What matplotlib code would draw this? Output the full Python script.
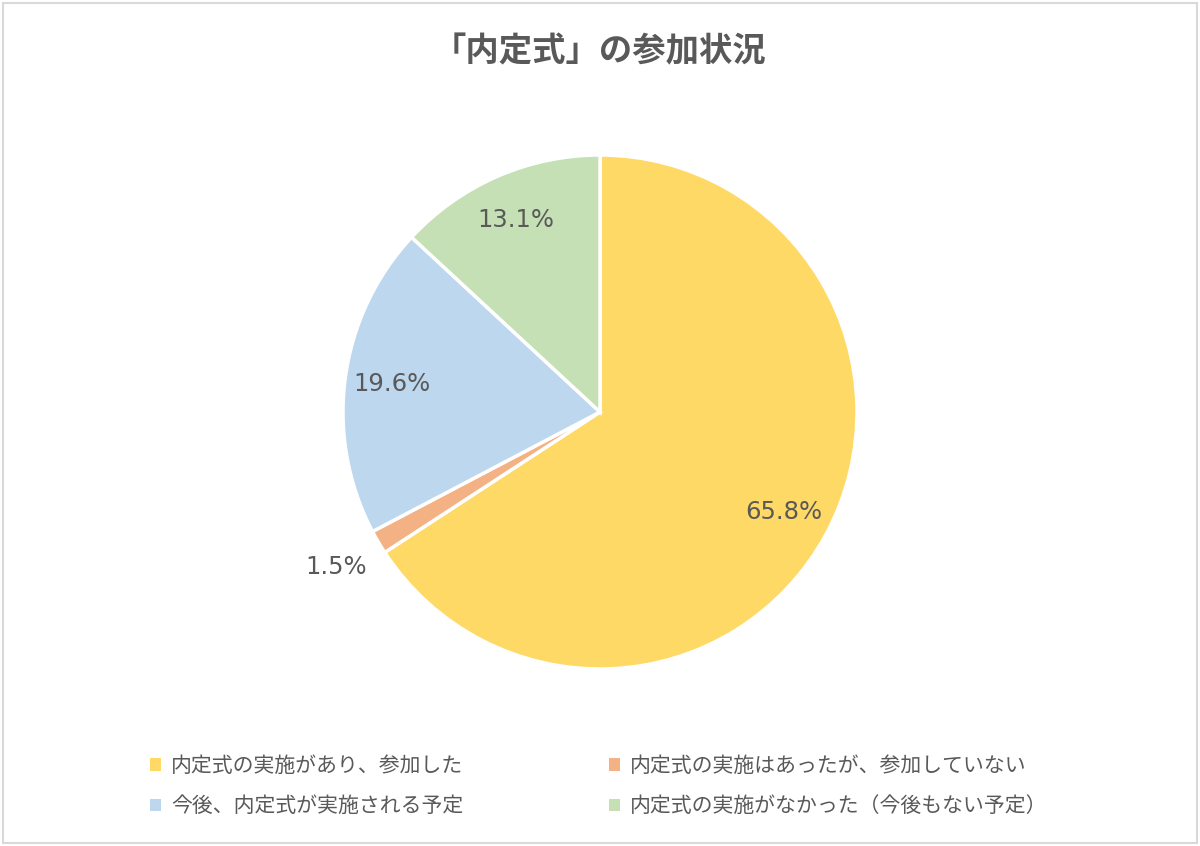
import matplotlib
matplotlib.use("Agg")
import matplotlib.pyplot as plt
from matplotlib.patches import Rectangle, Patch
import numpy as np

plt.rcParams['font.family'] = ['Noto Sans CJK JP', 'DejaVu Sans']

title = "「内定式」の参加状況"
categories = ["内定式の実施があり、参加した",
              "内定式の実施はあったが、参加していない",
              "今後、内定式が実施される予定",
              "内定式の実施がなかった（今後もない予定）"]
values = [65.8, 1.5, 19.6, 13.1]
labels = ["65.8%", "1.5%", "19.6%", "13.1%"]
colors = ["#FFD966", "#F4B183", "#BDD7EE", "#C5E0B4"]

W, H = 1200, 846
fig = plt.figure(figsize=(W/100, H/100), dpi=100)
fig.patch.set_facecolor("white")

cx, cy, r = 600, 412, 257
ax = fig.add_axes([(cx - r)/W, (H - cy - r)/H, 2*r/W, 2*r/H])
wedges, _ = ax.pie(values, colors=colors, startangle=90, counterclock=False,
                   radius=1, wedgeprops=dict(edgecolor="white", linewidth=2.5))
ax.set_xlim(-1, 1)
ax.set_ylim(-1, 1)
ax.axis("off")

for w, lab, v in zip(wedges, labels, values):
    mid = np.deg2rad((w.theta1 + w.theta2) / 2)
    d = 0.815 if v > 5 else 1.19
    ax.text(d*np.cos(mid), d*np.sin(mid), lab, ha="center", va="center",
            fontsize=17.5, color="#595959", family="DejaVu Sans")

fig.text(0.5, (H - 52)/H, title, ha="center", va="center", fontsize=24,
         fontweight="bold", color="#595959")

# legend (column-major order)
order = [0, 2, 1, 3]
handles = [Patch(facecolor=colors[i], edgecolor="none") for i in order]
names = [categories[i] for i in order]
leg = fig.legend(handles, names, ncol=2, loc="center left",
                 bbox_to_anchor=(150/W, 1 - 786/H), frameon=False,
                 fontsize=15, handlelength=0.55, handleheight=0.55,
                 handletextpad=0.45, columnspacing=7.0, labelspacing=0.9,
                 borderpad=0, borderaxespad=0)
for t in leg.get_texts():
    t.set_color("#595959")

fig.patches.append(Rectangle((3/W, 3/H), 1 - 6/W, 1 - 6/H, transform=fig.transFigure,
                             fill=False, edgecolor="#D9D9D9", linewidth=1.5))

fig.savefig("out.png", dpi=100, facecolor="white")
